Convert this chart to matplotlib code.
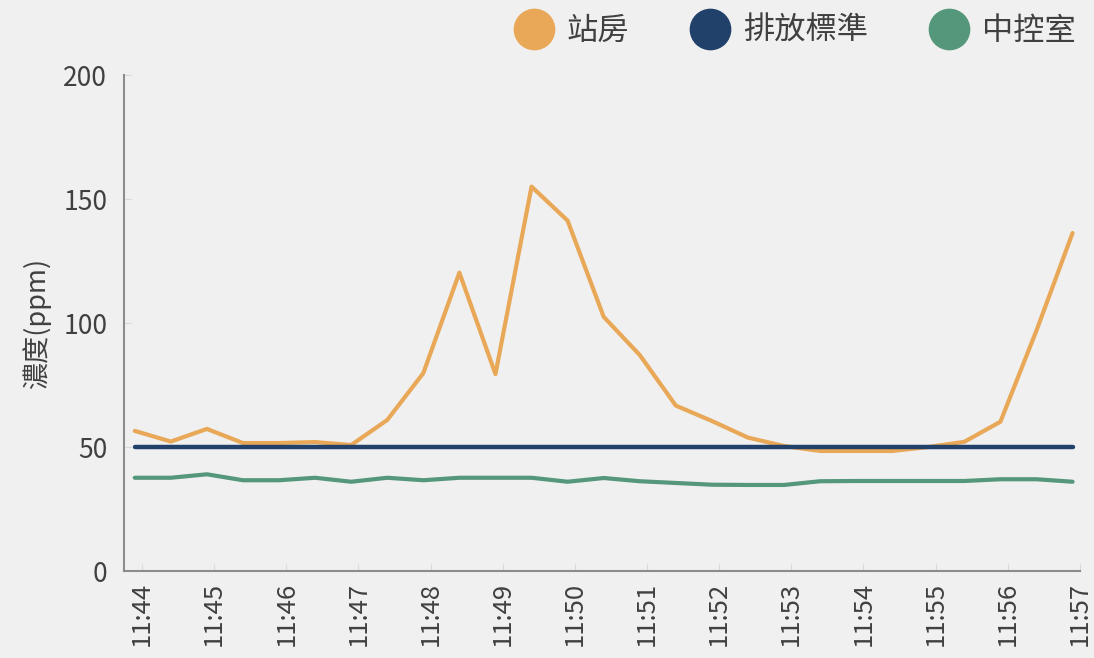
import matplotlib.pyplot as plt
from matplotlib.lines import Line2D

plt.rcParams['font.family'] = ['Noto Sans CJK TC', 'DejaVu Sans']

# 時間 (每30秒一筆)
times = ["11:43:54", "11:44:24", "11:44:54", "11:45:24", "11:45:54", "11:46:24",
         "11:46:54", "11:47:24", "11:47:54", "11:48:24", "11:48:54", "11:49:24",
         "11:49:54", "11:50:24", "11:50:54", "11:51:24", "11:51:54", "11:52:24",
         "11:52:54", "11:53:24", "11:53:54", "11:54:24", "11:54:54", "11:55:24",
         "11:55:54", "11:56:24", "11:56:54"]

station = [56.5, 52.2, 57.3, 51.6, 51.6, 52.0, 50.8, 60.9, 79.8, 120.3, 79.4, 155.0,
           141.3, 102.5, 87.1, 66.7, 60.5, 53.8, 50.4, 48.4, 48.4, 48.4, 50.0, 52.1,
           60.2, 97.0, 136.3]
standard = [50] * 27
control = [37.6, 37.6, 39.0, 36.6, 36.6, 37.6, 36.0, 37.6, 36.6, 37.6, 37.6, 37.6,
           36.0, 37.5, 36.2, 35.5, 34.8, 34.7, 34.7, 36.2, 36.3, 36.3, 36.3, 36.3,
           37.0, 37.0, 36.0]

tick_labels = ["11:44", "11:45", "11:46", "11:47", "11:48", "11:49", "11:50",
               "11:51", "11:52", "11:53", "11:54", "11:55", "11:56", "11:57"]


def to_min(s):
    h, m, *rest = s.split(":")
    sec = int(rest[0]) if rest else 0
    return (int(h) - 11) * 60 + int(m) + sec / 60.0


x = [to_min(t) for t in times]
xt = [to_min(t) for t in tick_labels]

c_orange = '#E8A857'
c_navy = '#21416B'
c_green = '#55977A'
bg = '#F0F0F0'
txt = '#404040'

fig = plt.figure(figsize=(10.94, 6.58), dpi=100, facecolor=bg)
ax = fig.add_axes([0.1133, 0.1322, 0.8737, 0.7538], facecolor=bg)

ax.plot(x, control, color=c_green, lw=3.0, solid_capstyle='round', zorder=2)
ax.plot(x, station, color=c_orange, lw=3.0, solid_capstyle='round', zorder=3)
ax.plot(x, standard, color=c_navy, lw=3.2, solid_capstyle='round', zorder=4)

ax.set_xlim(43.75, 57.0)
ax.set_ylim(0, 200)
ax.set_yticks([0, 50, 100, 150, 200])
ax.set_xticks(xt)
ax.set_xticklabels(tick_labels, rotation=90)

for s in ['top', 'right']:
    ax.spines[s].set_visible(False)
for s in ['left', 'bottom']:
    ax.spines[s].set_color('#8C8C8C')
    ax.spines[s].set_linewidth(1.5)

ax.tick_params(axis='both', direction='in', length=5, color='#D8D8D8',
               labelsize=19, labelcolor=txt)
ax.tick_params(axis='x', labelsize=18.5, pad=8)
ax.tick_params(axis='y', pad=12)
ax.set_ylabel('濃度(ppm)', fontsize=19.5, color=txt, labelpad=9)

handles = [Line2D([], [], ls='none', marker='o', ms=29, color=c) for c in (c_orange, c_navy, c_green)]
fig.legend(handles, ['站房', '排放標準', '中控室'], loc='upper right',
           bbox_to_anchor=(1.009, 1.02), ncol=3, frameon=False,
           fontsize=22.5, labelcolor=txt, handletextpad=0.45, columnspacing=2.0,
           handlelength=1.2)

fig.savefig('out.png', dpi=100, facecolor=bg)
